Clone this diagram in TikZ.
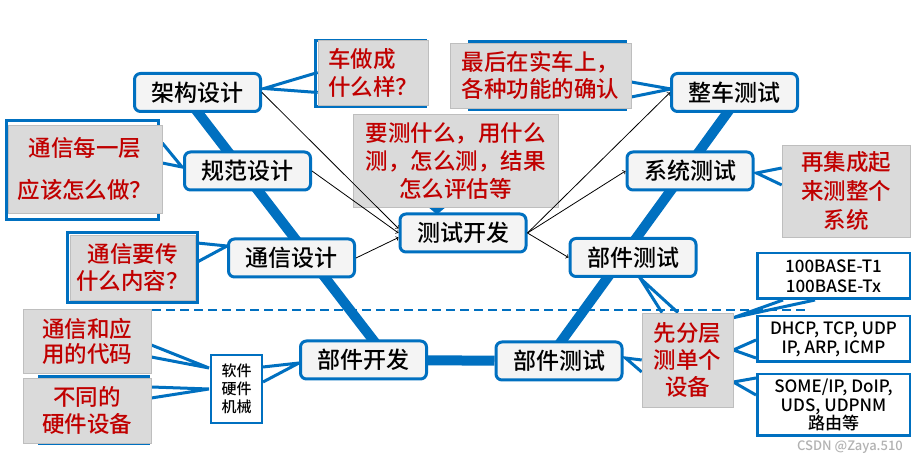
\documentclass[tikz,border=0pt]{standalone}
\usepackage{fontspec}
\setmainfont{Noto Sans CJK SC Medium}
\usetikzlibrary{calc,backgrounds}

\definecolor{msblue}{RGB}{0,112,192}
\definecolor{boxgray}{RGB}{244,244,244}
\definecolor{notegray}{RGB}{218,218,218}
\definecolor{noteline}{RGB}{190,190,190}
\definecolor{notered}{RGB}{192,0,0}

\tikzstyle{mainbox}=[draw=msblue, line width=3pt, rounded corners=6pt, fill=boxgray, minimum width=126pt, minimum height=38pt, inner sep=0pt, font=\fontsize{23}{26}\selectfont]
\tikzstyle{notebox}=[draw=noteline, line width=0.6pt, fill=notegray, text=notered, align=center, inner sep=0pt, font=\fontsize{22.5}{28}\selectfont]
\tikzstyle{infobox}=[draw=msblue, line width=2.5pt, fill=white, align=center, inner sep=0pt, minimum width=152.5pt, font=\fontsize{17}{20}\selectfont]
\tikzstyle{spineline}=[msblue, line width=10pt]
\tikzstyle{wedgeline}=[msblue, line width=3pt]
\tikzstyle{backline}=[draw=msblue, line width=2.5pt, fill=white]
\tikzstyle{arrowline}=[->, line width=0.8pt]

\begin{document}
\begin{tikzpicture}[x=1pt, y=1pt]
      \useasboundingbox (0,0) rectangle (919,463);
      % fishbone boxes
      \node[mainbox] (jiagou)    at (197.5,370.5) {架构设计};
      \node[mainbox] (guifan)    at (247.5,292)   {规范设计};
      \node[mainbox] (tongxin)   at (291.5,205)   {通信设计};
      \node[mainbox] (bujiankf)  at (363.5,103)   {部件开发};
      \node[mainbox] (ceshikf)   at (463,230)     {测试开发};
      \node[mainbox] (zhengche)  at (734.5,370.5) {整车测试};
      \node[mainbox] (xitong)    at (690,292)     {系统测试};
      \node[mainbox] (bujiancs1) at (633,205.5)   {部件测试};
      \node[mainbox] (bujiancs2) at (559,102)     {部件测试};
      % notes
      \node[notebox, align=left, minimum width=110pt, minimum height=65pt] (chezuo) at (373,390.5) {车做成\\什么样？};
      \node[notebox, minimum width=154pt, minimum height=88pt, font=\fontsize{22.5}{42}\selectfont] (tongxinmei) at (85,294) {通信每一层\\应该怎么做？};
      \node[notebox, minimum width=125pt, minimum height=65pt, font=\fontsize{22.5}{27}\selectfont] (tongxinyao) at (132.5,195.5) {通信要传\\什么内容？};
      \node[notebox, minimum width=128pt, minimum height=64pt, font=\fontsize{22.5}{25}\selectfont] (tongxinhe) at (87,122) {通信和应\\用的代码};
      \node[notebox, minimum width=128pt, minimum height=65pt, font=\fontsize{22.5}{27}\selectfont] (butong) at (87,52.5) {不同的\\硬件设备};
      \node[notebox, minimum width=205pt, minimum height=93pt] (yaoce) at (455.5,302.5) {要测什么，用什么\\测，怎么测，结果\\怎么评估等};
      \node[notebox, minimum width=181pt, minimum height=65pt, font=\fontsize{22.5}{27}\selectfont] (zuihou) at (540.5,387.5) {最后在实车上，\\各种功能的确认};
      \node[notebox, minimum width=128pt, minimum height=92pt, font=\fontsize{22.5}{29}\selectfont] (zaijicheng) at (846,272) {再集成起\\来测整个\\系统};
      \node[notebox, minimum width=91pt, minimum height=94pt, font=\fontsize{22.5}{27}\selectfont] (xianfen) at (687.5,103) {先分层\\测单个\\设备};
      % protocol boxes
      \node[infobox, minimum height=45.5pt] (base100) at (833.5,187) {100BASE-T1\\100BASE-Tx};
      \node[infobox, minimum height=45.5pt, font=\fontsize{17}{19}\selectfont] (dhcp) at (833.5,124) {DHCP, TCP, UDP\\IP, ARP, ICMP};
      \node[infobox, minimum height=61.5pt, font=\fontsize{17}{18.5}\selectfont] (someip) at (833.5,58) {SOME/IP, DoIP,\\UDS, UDPNM\\路由等};
      \node[infobox, line width=2pt, minimum width=51pt, minimum height=68pt, font=\fontsize{15}{18}\selectfont] (ruanjian) at (236.5,74) {软件\\硬件\\机械};
      \node[text=gray!60, font=\fontsize{13}{15}\selectfont] (csdn) at (850,16) {CSDN @Zaya.510};

      \begin{scope}[on background layer]
        \fill[white] (0,0) rectangle (919,463);
        \draw[msblue, line width=1.5pt, dash pattern=on 9pt off 5pt] (152,153) -- (808,153);
        \draw[spineline] ($(jiagou)+(-15,0)$)    -- ($(bujiankf)+(25,0)$);
        \draw[spineline] ($(bujiancs2)+(-12,0)$) -- ($(zhengche)+(7.5,0)$);
        \draw[spineline] (bujiankf) -- (bujiancs2);
        % callout backs
        \draw[backline] ($(chezuo.south west)+(-2,-1)$)     rectangle ($(chezuo.north east)+(-3,-1)$);
        \draw[backline] ($(zuihou.south west)+(20,-1)$)     rectangle ($(zuihou.north east)+(-6,1)$);
        \draw[backline] ($(tongxinmei.south west)+(-1,-6)$) rectangle ($(tongxinmei.north east)+(-4,4)$);
        \draw[backline] ($(tongxinyao.south west)+(-2,-2)$) rectangle ($(tongxinyao.north east)+(2,2)$);
        \draw[backline] ($(butong.south west)+(17,0)$)      rectangle ($(butong.north east)+(-3,1)$);
        % callout pointers
        \draw[wedgeline] (chezuo.west) -- ($(jiagou.east)+(2,4)$) -- ($(chezuo.west)+(0,-20)$);
        \draw[wedgeline] ($(tongxinmei.east)+(0,26)$) -- ($(guifan.west)+(-1,4)$) -- ($(tongxinmei.east)+(0,6)$);
        \draw[wedgeline] ($(tongxinyao.east)+(2,24.5)$) -- ($(tongxin.west)+(0,12)$) -- ($(tongxinyao.east)+(2,5.5)$);
        \draw[wedgeline] ($(tongxinhe.east)+(0,-4)$) -- ($(ruanjian.west)+(-1,21)$) -- ($(tongxinhe.east)+(0,-16)$);
        \draw[wedgeline] ($(butong.east)+(0,23.5)$) -- ($(ruanjian.west)+(-1,0)$) -- ($(butong.east)+(0,12.5)$);
        \draw[wedgeline] ($(ruanjian.east)+(0,22)$) -- ($(bujiankf.west)+(0,-3)$) -- ($(ruanjian.east)+(0,7)$);
        \fill[msblue] ($(yaoce.south)+(-27,0)$) -- ($(ceshikf.north)+(-26,-2)$) -- ($(yaoce.south)+(-10,0)$) -- cycle;
        \draw[wedgeline] ($(zuihou.east)+(0,-6.5)$) -- ($(zhengche.west)+(1,3.5)$) -- ($(zuihou.east)+(0,-21.5)$);
        \draw[wedgeline] ($(zaijicheng.west)+(0,23)$) -- ($(xitong.east)+(2,-2)$) -- ($(zaijicheng.west)+(0,6)$);
        \draw[wedgeline] ($(xianfen.north)+(-25.5,0)$) -- ($(bujiancs1.south)+(7,0)$) -- ($(xianfen.north)+(-9.5,0)$);
        \draw[wedgeline] (xianfen.west) -- ($(bujiancs2.east)+(2,3)$) -- ($(xianfen.west)+(0,-12)$);
        \draw[wedgeline] ($(base100.south)+(-50.5,0)$) -- ($(xianfen.north east)+(0,-5)$) -- ($(base100.south)+(-18.5,0)$);
        \draw[wedgeline] ($(dhcp.west)+(0,-1)$) -- ($(xianfen.east)+(0,10)$) -- ($(dhcp.west)+(0,-19)$);
        \draw[wedgeline] ($(someip.west)+(0,27)$) -- ($(xianfen.east)+(0,-22)$) -- ($(someip.west)+(0,10)$);
      \end{scope}

      % test development arrows
      \draw[arrowline] (jiagou.east)  -- (ceshikf.176);
      \draw[arrowline] (guifan.east)  -- (ceshikf.west);
      \draw[arrowline] (tongxin.east) -- (ceshikf.184);
      \draw[arrowline] (ceshikf.east) -- (zhengche.west);
      \draw[arrowline] (ceshikf.east) -- (xitong.west);
      \draw[arrowline] (ceshikf.east) -- (bujiancs1.west);
    \end{tikzpicture}
\end{document}
